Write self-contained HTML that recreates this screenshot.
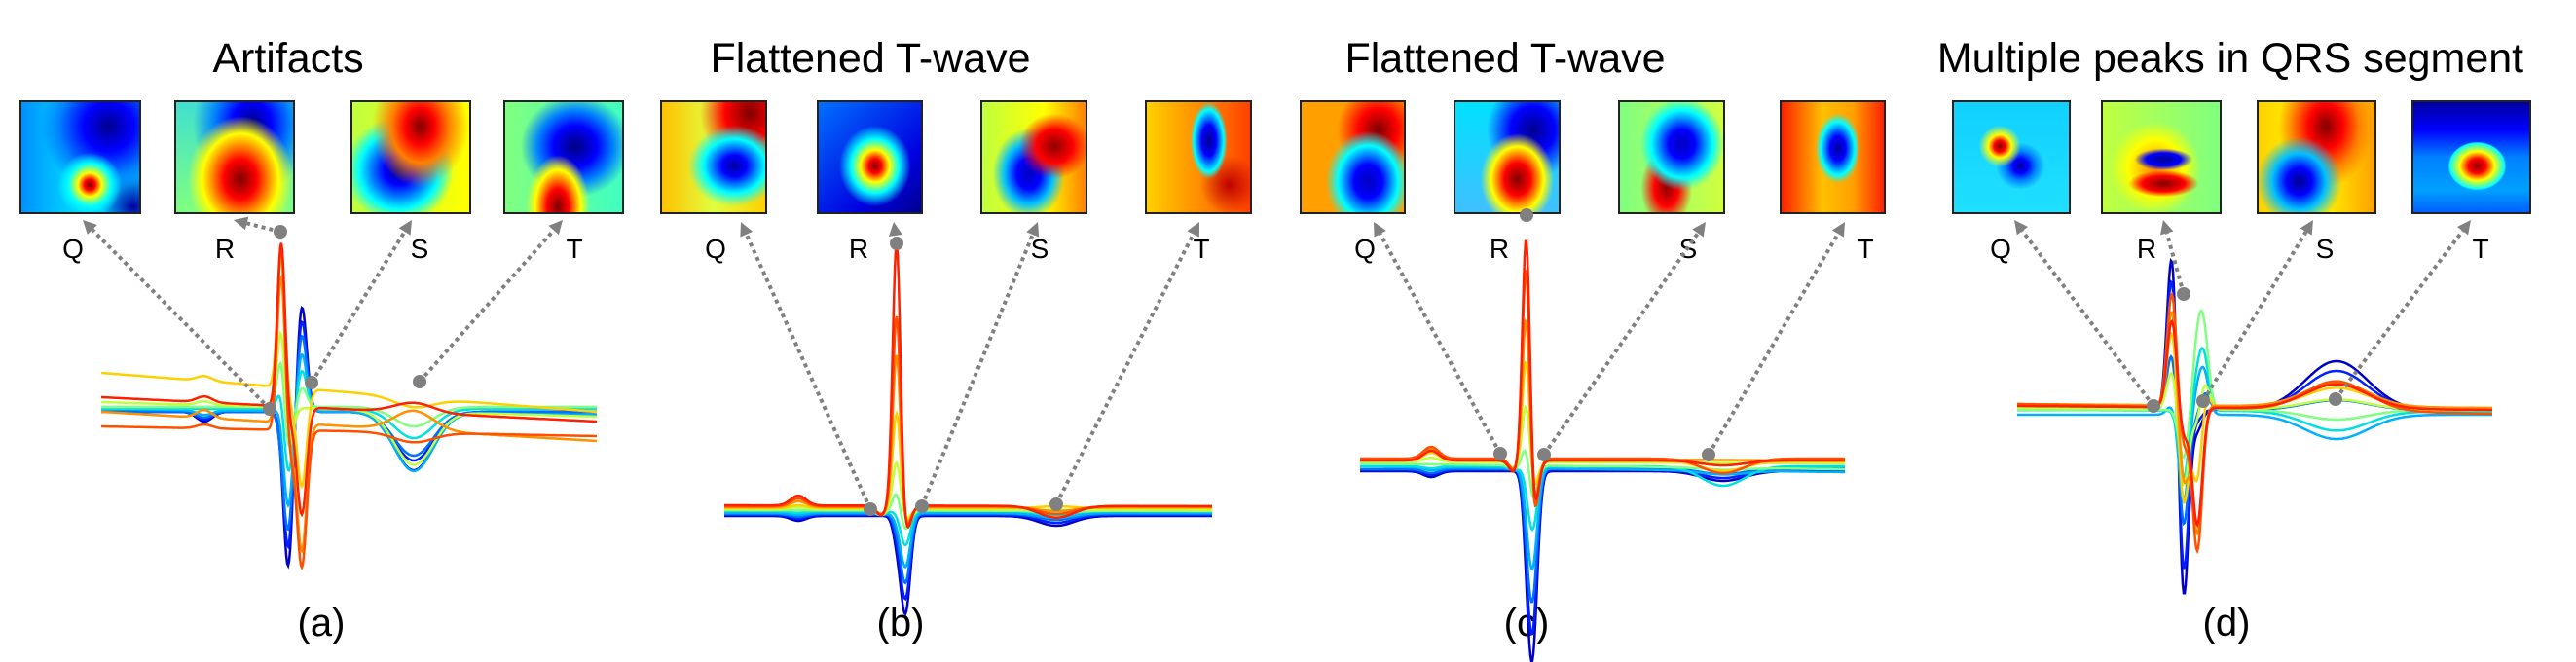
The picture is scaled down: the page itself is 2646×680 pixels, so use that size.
<!DOCTYPE html>
<html><head><meta charset="utf-8">
<style>
html,body{margin:0;padding:0;background:#fff;}
#root{position:relative;width:2646px;height:680px;overflow:hidden;background:#fff;font-family:"Liberation Sans",Arial,sans-serif;}
.title{position:absolute;top:36px;font-size:43px;color:#000;transform:translateX(-50%);white-space:nowrap;}
.hm{position:absolute;top:103px;height:117px;border:2px solid #222;box-sizing:border-box;}
.lbl{position:absolute;top:240px;font-size:28px;color:#000;transform:translateX(-50%);}
.cap{position:absolute;top:618px;font-size:40px;color:#000;transform:translateX(-50%);}
svg{position:absolute;left:0;top:0;}
</style></head><body>
<div id="root">
<div class="title" style="left:296px">Artifacts</div>
<div class="title" style="left:894px">Flattened T-wave</div>
<div class="title" style="left:1546px">Flattened T-wave</div>
<div class="title" style="left:2291px">Multiple peaks in QRS segment</div>

<div class="hm" style="left:20px;width:125px;background:radial-gradient(circle at 58% 75%,#800000 0,#ff0000 5%,#ffff00 11%,#00ffff 20%,transparent 30%),radial-gradient(ellipse at 74% 22%,#000090 0,#0000ff 20%,#0080ff 40%,transparent 55%),radial-gradient(circle at 95% 95%,#0000a0 0,transparent 20%),linear-gradient(90deg,#0090ff,#00d0ff 40%,#00b0ff);"></div>
<div class="hm" style="left:179px;width:124px;background:radial-gradient(ellipse at 55% 70%,#800000 0,#ff0000 18%,#ff8000 30%,#ffff00 42%,transparent 58%),radial-gradient(ellipse at 65% 20%,#000080 0,#0000ff 18%,#0080ff 35%,transparent 55%),linear-gradient(#40e0d0,#80ff80);"></div>
<div class="hm" style="left:360px;width:124px;background:radial-gradient(ellipse at 58% 22%,#800000 0,#ff0000 15%,#ff8000 30%,transparent 50%),radial-gradient(ellipse at 40% 62%,#000090 0,#0000ff 15%,#0080ff 28%,#00ffff 40%,transparent 55%),linear-gradient(90deg,#c0ff40,#ffff00);"></div>
<div class="hm" style="left:517px;width:124px;background:radial-gradient(ellipse at 45% 95%,#800000 0,#ff0000 12%,#ffff00 25%,transparent 35%),radial-gradient(ellipse at 60% 40%,#000080 0,#0000ff 22%,#0080ff 38%,transparent 55%),linear-gradient(90deg,#80ff80,#40ffc0);"></div>
<div class="hm" style="left:678px;width:110px;background:radial-gradient(ellipse at 70% 58%,#0000a0 0,#0000ff 12%,#00ffff 30%,transparent 45%),radial-gradient(ellipse at 85% 10%,#800000 0,#ff0000 20%,transparent 40%),linear-gradient(90deg,#ffc000,#e0ff40 50%,#ffd000);"></div>
<div class="hm" style="left:839px;width:109px;background:radial-gradient(ellipse at 55% 58%,#800000 0,#ff0000 8%,#ffff00 18%,#00ffff 30%,transparent 45%),linear-gradient(135deg,#0070ff,#0000e0 70%,#000090);"></div>
<div class="hm" style="left:1007px;width:110px;background:radial-gradient(ellipse at 70% 40%,#900000 0,#ff0000 18%,transparent 35%),radial-gradient(ellipse at 45% 65%,#0000c0 0,#0000ff 15%,#00c0ff 30%,transparent 45%),linear-gradient(90deg,#c0ff40,#ffff00 60%,#ff8000);"></div>
<div class="hm" style="left:1176px;width:110px;background:radial-gradient(ellipse 18% 35% at 60% 35%,#000090 0,#0000ff 40%,#00ffff 80%,transparent 100%),radial-gradient(ellipse at 80% 75%,#c00000 0,transparent 25%),linear-gradient(90deg,#ffd000,#ff8000 60%,#ff4000);"></div>
<div class="hm" style="left:1335px;width:109px;background:radial-gradient(ellipse at 65% 72%,#0000c0 0,#0000ff 15%,#00ffff 32%,transparent 45%),radial-gradient(ellipse at 75% 25%,#800000 0,#ff0000 18%,transparent 38%),linear-gradient(90deg,#ffa000,#ffa000);"></div>
<div class="hm" style="left:1493px;width:110px;background:radial-gradient(ellipse at 60% 70%,#800000 0,#ff0000 15%,#ffff00 30%,transparent 42%),radial-gradient(ellipse at 75% 25%,#000090 0,#0000ff 20%,transparent 42%),linear-gradient(#00e0ff,#40c0ff);"></div>
<div class="hm" style="left:1662px;width:110px;background:radial-gradient(ellipse at 60% 38%,#0000c0 0,#0000ff 15%,#00ffff 35%,transparent 48%),radial-gradient(ellipse at 45% 78%,#900000 0,#ff0000 15%,transparent 32%),linear-gradient(90deg,#80ff80,#d0ff40);"></div>
<div class="hm" style="left:1828px;width:109px;background:radial-gradient(ellipse 22% 32% at 55% 42%,#0000a0 0,#0000ff 35%,#00ffff 75%,transparent 100%),linear-gradient(90deg,#ff2000,#ffc000 40%,#ffa000 70%,#ff2000);"></div>
<div class="hm" style="left:2005px;width:122px;background:radial-gradient(circle at 40% 40%,#800000 0,#ff0000 6%,#ffff00 12%,transparent 22%),radial-gradient(ellipse at 58% 58%,#0000a0 0,#0000ff 8%,#0080ff 16%,transparent 26%),linear-gradient(#10d0ff,#20e0ff);"></div>
<div class="hm" style="left:2158px;width:124px;background:radial-gradient(ellipse 25% 10% at 52% 52%,#000090 0,#0000ff 60%,transparent 100%),radial-gradient(ellipse 30% 12% at 52% 74%,#800000 0,#ff0000 60%,transparent 100%),radial-gradient(ellipse at 45% 60%,#ff8000 0,#ffff00 30%,transparent 50%),linear-gradient(90deg,#c0ff40,#80ff80);"></div>
<div class="hm" style="left:2318px;width:123px;background:radial-gradient(ellipse at 35% 72%,#000090 0,#0000ff 12%,#00c0ff 25%,transparent 40%),radial-gradient(ellipse at 58% 22%,#800000 0,#ff0000 18%,#ff8000 35%,transparent 50%),linear-gradient(90deg,#ffd000,#ffff00 50%,#ffa000);"></div>
<div class="hm" style="left:2477px;width:123px;background:radial-gradient(ellipse 25% 22% at 55% 58%,#900000 0,#ff0000 30%,#ffff00 60%,#00ffff 95%,transparent 100%),linear-gradient(#0000a0,#0000ff 25%,#0080ff 50%,#00a0ff 80%,#0060ff);"></div>

<div class="lbl" style="left:75px">Q</div>
<div class="lbl" style="left:231px">R</div>
<div class="lbl" style="left:431px">S</div>
<div class="lbl" style="left:590px">T</div>
<div class="lbl" style="left:735px">Q</div>
<div class="lbl" style="left:882px">R</div>
<div class="lbl" style="left:1068px">S</div>
<div class="lbl" style="left:1234px">T</div>
<div class="lbl" style="left:1402px">Q</div>
<div class="lbl" style="left:1540px">R</div>
<div class="lbl" style="left:1734px">S</div>
<div class="lbl" style="left:1916px">T</div>
<div class="lbl" style="left:2055px">Q</div>
<div class="lbl" style="left:2205px">R</div>
<div class="lbl" style="left:2388px">S</div>
<div class="lbl" style="left:2548px">T</div>

<div class="cap" style="left:330px">(a)</div>
<div class="cap" style="left:925px">(b)</div>
<div class="cap" style="left:1568px">(c)</div>
<div class="cap" style="left:2287px">(d)</div>

<svg id="plot" width="2646" height="680"></svg>
</div>
<script>
const panelX0 = [104, 744, 1397, 2072];
const panelX1 = [613, 1245, 1895, 2560];
const baselines = [423, 525, 479, 421];
const compPos = [[289, 296, 310, 425, 210], [921, 930, 905, 1085, 820], [1568, 1574, 1555, 1770, 1470], [2231, 2243, 2257, 2264, 2400]];
const compW = [[4, 5, 5, 20, 8], [4, 5, 5, 18, 8], [4, 5, 5, 22, 8], [5, 5, 5, 5, 32]];
const ampsA = [[0,-160,110,-60,-10],[0,-140,95,-50,-8],[-10,-120,80,-45,-6],[10,-100,60,-60,-5],[30,-70,40,-30,0],[60,-50,20,-20,0],[90,-40,0,-55,4],[140,-20,-100,-10,5],[160,-30,-130,20,8],[199,-30,-140,-10,4],[175,-20,-110,10,6]];
const ampsB = [[-20,-99,0,-10,-5],[-15,-85,0,-8,-4],[-10,-70,0,-6,-3],[-5,-55,-2,-5,-2],[0,-35,-4,-4,-2],[20,-20,-4,-2,0],[50,-10,-6,0,2],[100,-15,-6,2,3],[160,-20,-8,-4,6],[200,-25,-8,-8,8],[275,-30,-10,-12,10]];
const ampsC = [[-30,-185,0,-10,-6],[-25,-160,0,-8,-5],[-20,-130,0,-6,-4],[-10,-100,-2,-4,-3],[0,-65,-4,-20,-2],[30,-40,-4,-2,0],[70,-30,-6,0,4],[120,-40,-8,-10,8],[170,-60,-10,0,10],[230,-80,-12,-15,12],[260,-70,-12,-5,10]];
const ampsD = [[163,-197,-20,0,50],[140,-170,-10,0,40],[60,-120,-10,20,10],[10,-90,20,40,-25],[0,-70,30,50,-20],[0,-50,60,70,-10],[40,-80,-20,30,10],[80,-100,-80,20,20],[100,-80,-130,0,25],[118,-40,-146,0,30],[90,-30,-120,0,25]];
const driftA = [[0,0],[0,0],[0,0],[3,-3],[3,3],[5,5],[10,-5],[40,0],[0,-30],[-15,-25],[15,-10]];
const driftB = [[-5,-5],[-4,-4],[-3,-3],[-2,-2],[0,0],[1,0],[2,1],[3,3],[4,4],[5,5],[6,5]];
const driftC = [[-5,-5],[-4,-4],[-3,-2],[0,-6],[0,0],[3,-3],[5,3],[6,5],[8,6],[8,8],[6,6]];
const driftD = [[0,0],[0,0],[0,0],[-5,-5],[0,-2],[0,0],[2,0],[4,2],[6,2],[6,-4],[4,0]];
const seriesColors = ["#0000c8","#0020ff","#0070ff","#00b0ff","#00e0e0","#80ff80","#c0ff40","#ffd000","#ff9000","#ff5000","#ff2000"];

const allAmps = [ampsA, ampsB, ampsC, ampsD];
const allDrift = [driftA, driftB, driftC, driftD];
const NS = "http://www.w3.org/2000/svg";
const svg = document.getElementById("plot");
const panelNames = ["a","b","c","d"];

function yVal(p, s, x) {
  const a = allAmps[p][s], d = allDrift[p][s];
  const t = (x - panelX0[p]) / (panelX1[p] - panelX0[p]);
  let v = d[0] + (d[1] - d[0]) * t;
  for (let k = 0; k < a.length; k++) {
    const z = (x - compPos[p][k]) / compW[p][k];
    v += a[k] * Math.exp(-0.5 * z * z);
  }
  return baselines[p] - v;
}

for (let p = 0; p < 4; p++) {
  const g = document.createElementNS(NS, "g");
  
  
  svg.appendChild(g);
  for (let s = 0; s < allAmps[p].length; s++) {
    let d = "";
    for (let x = panelX0[p]; x <= panelX1[p]; x += 1) {
      d += (x === panelX0[p] ? "M" : "L") + x + "," + yVal(p, s, x).toFixed(1);
    }
    const path = document.createElementNS(NS, "path");
    path.setAttribute("d", d);
    path.setAttribute("fill", "none");
    path.setAttribute("stroke", seriesColors[s]);
    path.setAttribute("stroke-width", "2.5");
    
    
    g.appendChild(path);
  }
}

const arrows = [
  [277,420,85,226],[288,238,240,226],[320,393,423,226],[431,392,578,226],
  [894,523,761,228],[921,250,918,228],[947,520,1066,228],[1085,518,1232,228],
  [1541,466,1411,228],[1568,221,1568,221],[1586,467,1752,228],[1755,467,1895,228],
  [2212,417,2069,226],[2243,302,2222,226],[2263,412,2376,226],[2399,410,2538,226]
];
const arrowNames = ["q","r","s","t"];
arrows.forEach((a, i) => {
  const dx = a[2]-a[0], dy = a[3]-a[1], L = Math.hypot(dx, dy);
  if (L > 5) {
    const ux = dx/L, uy = dy/L;
    const bx = a[2]-ux*14, by = a[3]-uy*14;
    const ln = document.createElementNS(NS, "line");
    ln.setAttribute("x1", a[0]); ln.setAttribute("y1", a[1]);
    ln.setAttribute("x2", bx); ln.setAttribute("y2", by);
    ln.setAttribute("stroke", "#808080"); ln.setAttribute("stroke-width", "4");
    ln.setAttribute("stroke-dasharray", "4 4");
    
    
    svg.appendChild(ln);
    const hd = document.createElementNS(NS, "polygon");
    const px = -uy, py = ux;
    hd.setAttribute("points", `${a[2]},${a[3]} ${bx+px*7},${by+py*7} ${bx-px*7},${by-py*7}`);
    hd.setAttribute("fill", "#808080");
    
    
    svg.appendChild(hd);
  }
  const c = document.createElementNS(NS, "circle");
  c.setAttribute("cx", a[0]); c.setAttribute("cy", a[1]); c.setAttribute("r", "7");
  c.setAttribute("fill", "#808080");
  
  
  svg.appendChild(c);
});
</script>
</body></html>
